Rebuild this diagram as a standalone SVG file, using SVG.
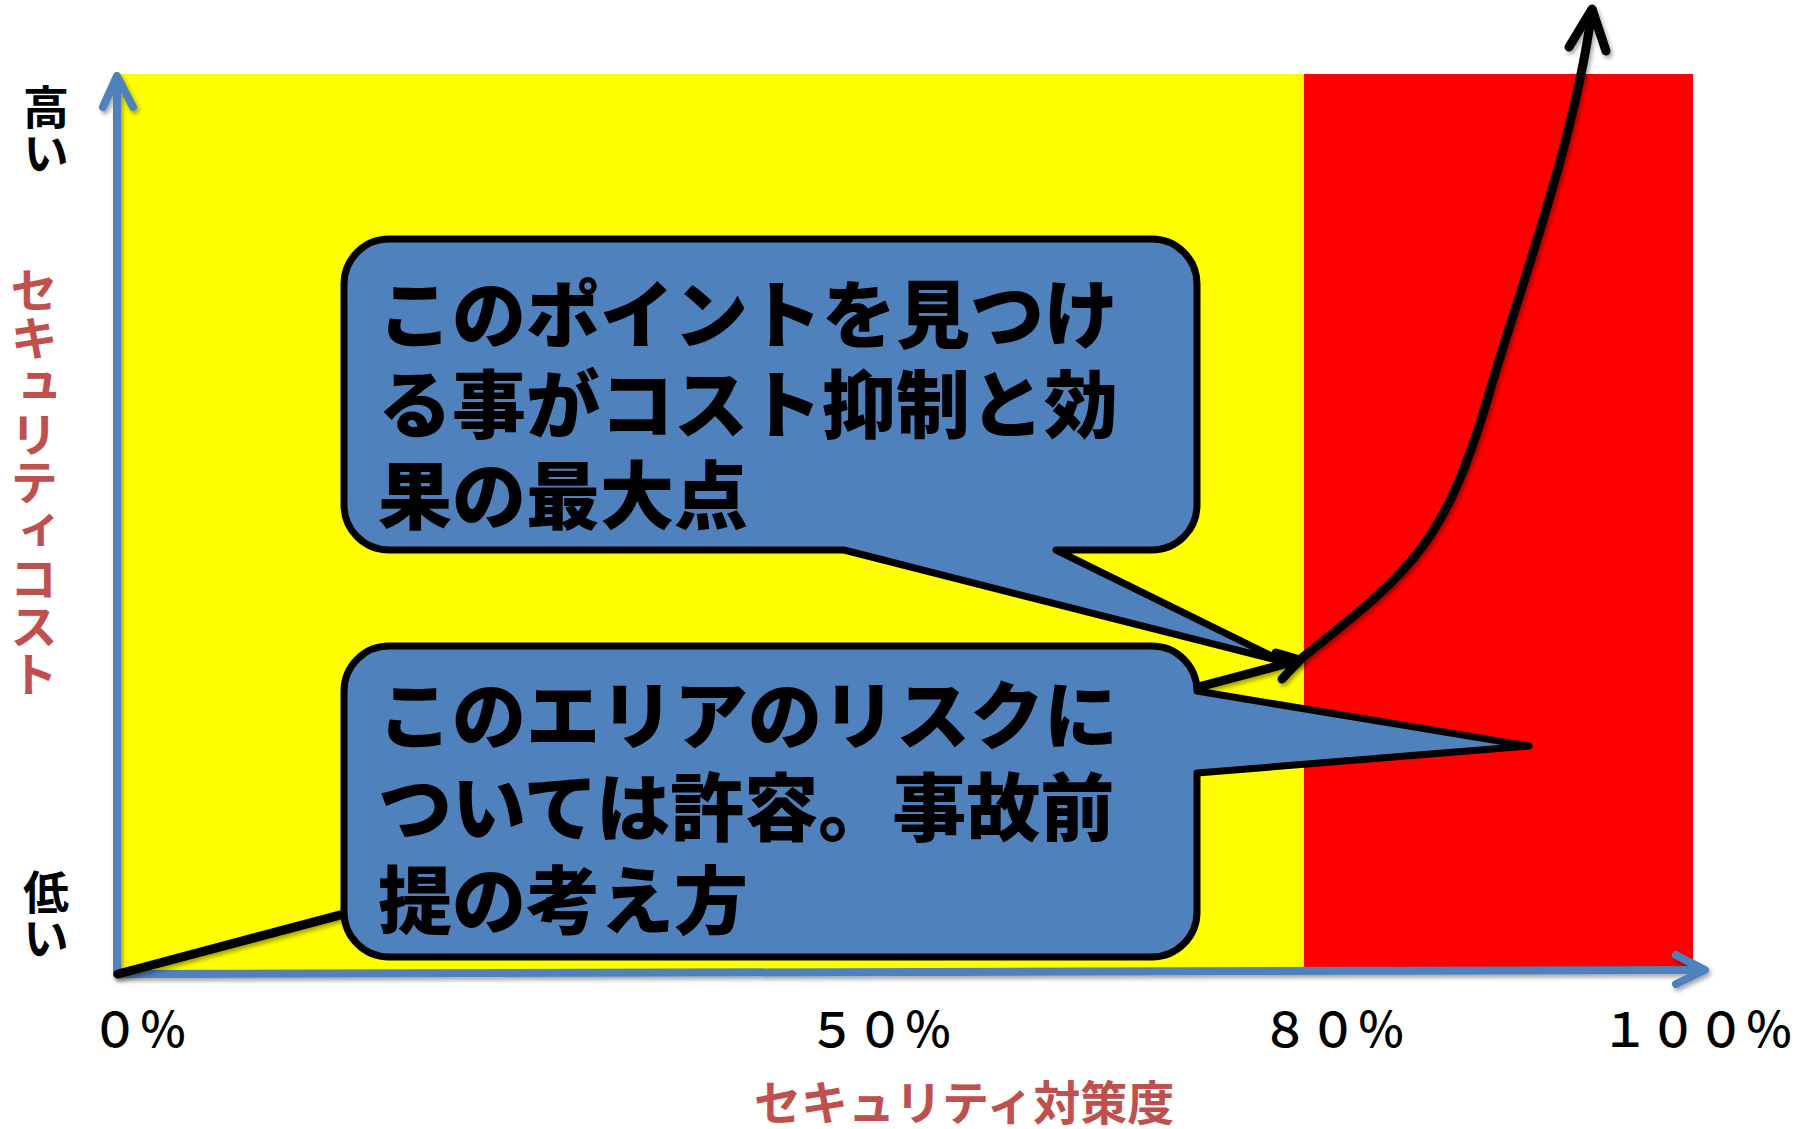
<svg xmlns="http://www.w3.org/2000/svg" width="1798" height="1129" viewBox="0 0 1798 1129">
  <style>
    .axis { fill: none; stroke: #4F81BD; stroke-width: 8; stroke-linecap: round; stroke-linejoin: round; }
    .ink { fill: none; stroke: #000; stroke-width: 9; stroke-linecap: round; stroke-linejoin: round; }
    .bubble { fill: #4F81BD; stroke: #000; stroke-width: 7; stroke-linejoin: round; }
    .btext { font-family: "Noto Sans CJK JP", "Noto Sans", sans-serif; font-weight: 900; font-size: 74px; fill: #000; }
    .vlab { font-family: "Noto Sans CJK JP", sans-serif; font-weight: 700; font-size: 46px; fill: #000; writing-mode: vertical-rl; }
    .vtitle { font-family: "Noto Sans CJK JP", sans-serif; font-weight: 700; font-size: 48px; fill: #C0504D; writing-mode: vertical-rl; }
    .pct { font-family: "Noto Sans CJK JP", sans-serif; font-weight: 500; font-size: 48px; fill: #000; }
    .htitle { font-family: "Noto Sans CJK JP", sans-serif; font-weight: 700; font-size: 47px; fill: #C0504D; }
  </style>
  <defs>
    <filter id="sh" x="-5%" y="-5%" width="110%" height="110%">
      <feDropShadow dx="2" dy="3" stdDeviation="2" flood-color="#000" flood-opacity="0.35"/>
    </filter>
  </defs>

  <g id="background">
    <rect x="117" y="74" width="1187" height="897" fill="#FFFF00"/>
    <rect x="1304" y="74" width="389" height="897" fill="#FF0000"/>
  </g>

  <g id="axes" filter="url(#sh)">
    <path class="axis" d="M117,974 V78"/>
    <path class="axis" d="M103,107 L117,76 L133,107"/>
    <path class="axis" d="M117,974 L1703,970"/>
    <path class="axis" d="M1676,955 L1705,970 L1676,984"/>
  </g>

  <g id="connectors">
    <path class="ink" filter="url(#sh)" d="M118,974 L1300,660"/>
  </g>

  <g id="callout-allow">
    <path class="bubble" d="M389,646 H1152 A45,45 0 0 1 1197,691 L1529,746 L1197,773 V912 A45,45 0 0 1 1152,957 H389 A45,45 0 0 1 344,912 V691 A45,45 0 0 1 389,646 Z"/>
    <text class="btext" x="378" y="743">このエリアのリスクに</text>
    <text class="btext" x="378" y="835">ついては許容。事故前</text>
    <text class="btext" x="378" y="928">提の考え方</text>
  </g>

  <g id="callout-point">
    <path class="bubble" d="M389,239 H1152 A45,45 0 0 1 1197,284 V505 A45,45 0 0 1 1152,550 H1056 L1284,662 L844,550 H389 A45,45 0 0 1 344,505 V284 A45,45 0 0 1 389,239 Z"/>
    <text class="btext" x="378" y="342">このポイントを見つけ</text>
    <text class="btext" x="378" y="432">る事がコスト抑制と効</text>
    <text class="btext" x="378" y="523">果の最大点</text>
  </g>

  <g id="cost-curve" filter="url(#sh)">
    <path class="ink" d="M1276,653 L1300,660 L1282,679"/>
    <path class="ink" d="M1303,657 C1412,570 1446,546 1493,380 C1525,274 1575,138 1592,10"/>
    <path class="ink" d="M1569,47 L1592,9 L1606,51"/>
  </g>

  <g id="labels">
    <text class="vlab" x="46" y="84">高い</text>
    <text class="vlab" x="46" y="869">低い</text>
    <text class="vtitle" x="34" y="266">セキュリティコスト</text>
    <text class="pct" x="91" y="1047">０％</text>
    <text class="pct" x="808" y="1047">５０％</text>
    <text class="pct" x="1261" y="1047">８０％</text>
    <text class="pct" x="1601" y="1047">１００％</text>
    <text class="htitle" x="754" y="1120">セキュリティ対策度</text>
  </g>
</svg>
